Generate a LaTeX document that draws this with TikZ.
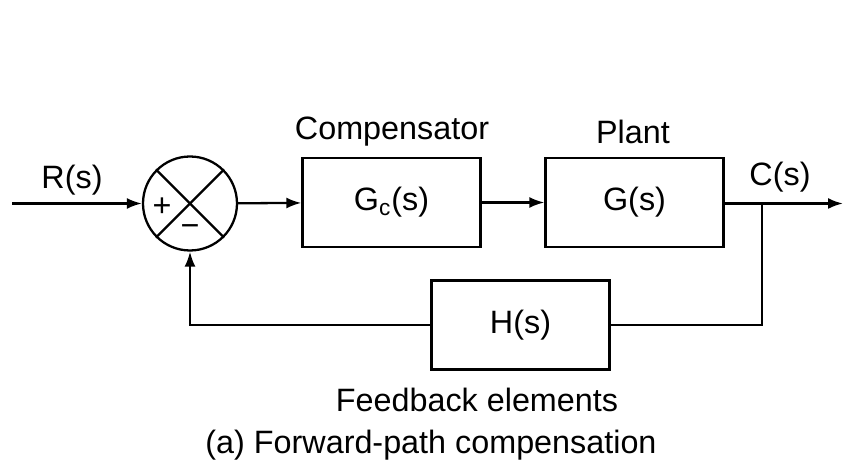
\documentclass[tikz,border=0pt]{standalone}
\usepackage{fontspec}
\setmainfont{Liberation Sans}
\usetikzlibrary{arrows.meta}

\tikzset{
    block/.style={draw, line width=1.3pt, minimum width=3.56cm, minimum height=1.78cm},
    sumjunction/.style={draw, circle, line width=1.3pt, minimum size=1.88cm, inner sep=0pt},
    signal/.style={line width=1.3pt, -{Latex[length=3mm, width=2.2mm]}},
    wire/.style={line width=1.3pt}
}

\begin{document}
\begin{tikzpicture}[font=\fontsize{18.4}{22}\selectfont]
        \useasboundingbox (0, 0) rectangle (16.88, 9.24);

        % Nodes
        \coordinate (Input) at (0.24, 5.17);
        \node[sumjunction] (Sum) at (3.80, 5.17) {};
        \node[block] (Gc) at (7.83, 5.19) {G\textsubscript{c}(s)};
        \node[block] (G) at (12.69, 5.19) {G(s)};
        \node[block] (H) at (10.41, 2.74) {H(s)};
        \coordinate (Branch) at (15.24, 5.17);
        \coordinate (Output) at (16.86, 5.17);
        \coordinate (HRight) at (15.24, 2.74);
        \coordinate (HLeft) at (3.80, 2.74);

        % Labels
        \node (RLabel) at (1.44, 5.64) {R(s)};
        \node (CLabel) at (15.60, 5.70) {C(s)};
        \node (CompLabel) at (7.84, 6.60) {Compensator};
        \node (PlantLabel) at (12.66, 6.60) {Plant};
        \node (FbLabel) at (9.54, 1.24) {Feedback elements};
        \node (Caption) at (8.62, 0.34) {(a) Forward-path compensation};
        \node (Plus) at (3.24, 5.10) {+};
        \node (Minus) at (3.80, 4.62) {−};

        % Cross in the summing junction
        \draw[wire] (Sum.north west) -- (Sum.south east);
        \draw[wire] (Sum.north east) -- (Sum.south west);

        % Arrows
        \draw[signal] (Input) -- (Sum);
        \draw[signal] (Sum) -- (Gc);
        \draw[signal] (Gc) -- (G);
        \draw[wire] (G.east |- Branch) -- (Branch);
        \draw[signal] (Branch) -- (Output);
        \draw[wire] (Branch) -- (HRight) -- (H.east);
        \draw[signal] (H.west) -- (HLeft) -- (Sum.south);
    \end{tikzpicture}
\end{document}
